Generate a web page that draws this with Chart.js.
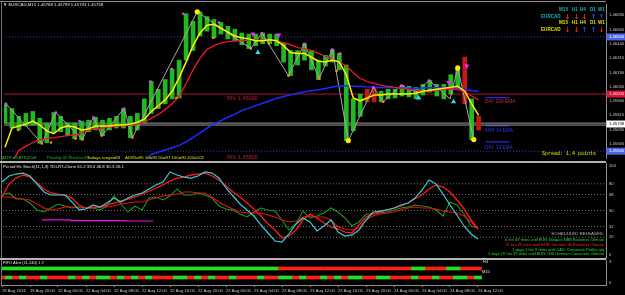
<!DOCTYPE html>
<html><head><meta charset="utf-8">
<script src="https://cdn.jsdelivr.net/npm/chart.js@4.4.1/dist/chart.umd.min.js"></script>
<style>
html,body{margin:0;padding:0;background:#000;width:625px;height:295px;overflow:hidden;}
#wrap{position:relative;width:625px;height:295px;background:#000;}
canvas{position:absolute;left:0;}
.t{position:absolute;white-space:nowrap;font-family:"Liberation Sans",Arial,sans-serif;font-size:4.3px;line-height:1;}
.b{font-weight:bold;font-size:4.6px;}
.ar{position:absolute;width:7px;text-align:center;font-family:"DejaVu Sans",sans-serif;font-weight:bold;font-size:7px;line-height:1;}
.ln{position:absolute;}
</style></head><body>
<div id="wrap">
<canvas id="main" width="625" height="162" style="top:0"></canvas>
<canvas id="stoch" width="625" height="97" style="top:162px"></canvas>
<canvas id="fifo" width="625" height="36" style="top:259px"></canvas>

<div class="ln" style="left:0;top:1px;width:606px;height:1px;background:#8c8c8c"></div>
<div class="ln" style="left:1px;top:1px;width:1px;height:284px;background:#707070"></div>
<div class="ln" style="left:0;top:161px;width:606px;height:2px;background:#b4b4b4"></div>
<div class="ln" style="left:0;top:258px;width:606px;height:2px;background:#b4b4b4"></div>

<div class="t" style="left:3px;top:3px;color:#e6e6e6">▼ EURCAD,M15 1.45768 1.45793 1.45733 1.45738</div>

<div class="t b" style="left:559px;top:8px;color:#14b4b4">M15</div>
<div class="t b" style="left:572px;top:8px;color:#14b4b4">H1</div>
<div class="t b" style="left:580px;top:8px;color:#14b4b4">H4</div>
<div class="t b" style="left:590px;top:8px;color:#14b4b4">D1</div>
<div class="t b" style="left:598px;top:8px;color:#14b4b4">W1</div>
<div class="t b" style="left:541px;top:15px;color:#14b4b4">EURCAD</div>
<div class="ar" style="left:564px;top:14px;color:#ff2020">↓</div>
<div class="ar" style="left:573px;top:14px;color:#ff2020">↓</div>
<div class="ar" style="left:581px;top:14px;color:#ff2020">↓</div>
<div class="ar" style="left:590px;top:14px;color:#2848ff">↑</div>
<div class="ar" style="left:598px;top:14px;color:#2848ff">↑</div>
<div class="t b" style="left:559px;top:21px;color:#e0e000">M15</div>
<div class="t b" style="left:572px;top:21px;color:#e0e000">H1</div>
<div class="t b" style="left:580px;top:21px;color:#e0e000">H4</div>
<div class="t b" style="left:590px;top:21px;color:#e0e000">D1</div>
<div class="t b" style="left:598px;top:21px;color:#e0e000">W1</div>
<div class="t b" style="left:541px;top:28px;color:#e0e000">EURCAD</div>
<div class="ar" style="left:564px;top:27px;color:#ff2020">↓</div>
<div class="ar" style="left:573px;top:27px;color:#ff2020">↓</div>
<div class="ar" style="left:581px;top:27px;color:#2848ff">↑</div>
<div class="ar" style="left:590px;top:27px;color:#2848ff">↑</div>
<div class="ar" style="left:598px;top:27px;color:#ff2020">↓</div>

<div class="t" style="left:227px;top:96px;font-size:5.5px;color:#c81e3c">RN: 1.46000</div>
<div class="t" style="left:227px;top:154.5px;font-size:5.5px;color:#c81e3c">RN: 1.45500</div>
<div class="t" style="left:485px;top:100px;font-size:4.8px;color:#c82850">DAY 200 EMA</div>
<div class="t" style="left:485px;top:129px;font-size:4.8px;color:#3038e0">4HR 34 EMA</div>
<div class="t" style="left:485px;top:145.5px;font-size:4.8px;color:#3038e0">DAY 13 EMA</div>
<div class="t" style="left:542px;top:151.5px;font-size:5px;font-family:'Liberation Mono',monospace;color:#e8e800">Spread: 1.4 points</div>

<div class="t" style="left:2px;top:155.5px;color:#20c040">ATR5=9  ATR25=9</div>
<div class="t" style="left:47px;top:155.5px;color:#20c020">PrevUp:32  PrevDn:46</div>
<div class="t" style="left:87px;top:155.5px;color:#e0e000">Todays range=83</div>
<div class="t" style="left:125px;top:155.5px;color:#e0e000">ADR5=95 10=93 50=97 100=90 200=102</div>

<div class="t" style="left:3px;top:164.5px;color:#e0e0e0">Period Hc Stoch(11,1,3) TDI-RT-Clone 61.2 39.4 46.8 30.3 26.1</div>

<div class="t" style="right:21px;top:232px;font-size:4.4px;color:#b8b8b8">SCHEDULED RELEASES:</div>
<div class="t" style="right:21px;top:238px;font-size:4px;color:#22dd22">0 hrs 49 mins until EUR: Belgian NBB Business Climate</div>
<div class="t" style="right:21px;top:243px;font-size:4px;color:#ff2222">21 hrs 29 mins until EUR: German Ifo Business Climate</div>
<div class="t" style="right:21px;top:247.5px;font-size:4px;color:#22dd22">1 days 1 hrs 9 mins until CAD: Corporate Profits q/q</div>
<div class="t" style="right:21px;top:252px;font-size:4px;color:#22dd22">1 days 19 hrs 29 mins until EUR: GfK German Consumer Climate</div>

<div class="t" style="left:3px;top:261px;font-size:4px;color:#e0e0e0">FIFO Alert (11,240) 1 2</div>
<div class="t" style="left:483px;top:260px;font-size:4px;color:#e0e0e0">H4</div>
<div class="t" style="left:482px;top:269.5px;font-size:4px;color:#e0e0e0">M15</div>
</div>

<script>
// ---------- DATA (hourly bars, index 0 = 19 Aug 16:00) ----------
const timeLabels = ["19 Aug 2016","19 Aug 20:00","22 Aug 00:00","22 Aug 04:00","22 Aug 08:00","22 Aug 12:00","22 Aug 16:00","22 Aug 20:00","23 Aug 00:00","23 Aug 04:00","23 Aug 08:00","23 Aug 12:00","23 Aug 16:00","23 Aug 20:00","24 Aug 00:00","24 Aug 04:00","24 Aug 08:00","24 Aug 12:00"];
const hoursPerLabel = 4;

const candleHigh = [1.45915,1.45873,1.45805,1.45831,1.45848,1.45788,1.45746,1.45839,1.45805,1.45746,
 1.45746,1.45763,1.45771,1.45797,1.45771,1.45788,1.45805,1.45873,1.45805,1.45831,
 1.45958,1.46110,1.46042,1.46127,1.46220,1.46297,1.46703,1.46636,1.46720,1.46678,
 1.46653,1.46627,1.46593,1.46568,1.46534,1.46525,1.46525,1.46534,1.46525,1.46525,
 1.46449,1.46381,1.46381,1.46441,1.46381,1.46297,1.46339,1.46390,1.46356,1.46254,
 1.45958,1.46000,1.46042,1.46059,1.46025,1.46042,1.46042,1.46076,1.46068,1.46059,
 1.46085,1.46119,1.46085,1.46085,1.46169,1.46229,1.46322,1.45958,1.45805];
const candleLow = [1.45746,1.45703,1.45686,1.45720,1.45729,1.45568,1.45576,1.45661,1.45670,1.45636,
 1.45610,1.45602,1.45670,1.45686,1.45636,1.45686,1.45703,1.45703,1.45619,1.45686,
 1.45746,1.45831,1.45873,1.45915,1.45958,1.45966,1.46297,1.46381,1.46508,1.46551,
 1.46492,1.46525,1.46483,1.46466,1.46432,1.46398,1.46424,1.46441,1.46441,1.46424,
 1.46280,1.46161,1.46254,1.46297,1.46212,1.46127,1.46246,1.46280,1.46212,1.45593,
 1.45678,1.45805,1.45932,1.45932,1.45932,1.45958,1.45966,1.45983,1.45975,1.45958,
 1.45992,1.46017,1.45983,1.45958,1.46000,1.46042,1.45915,1.45602,1.45686];
const candleUp = [1,1,1,1,1,1,1,1,1,1, 1,1,1,1,1,1,1,1,1,1, 1,1,1,1,1,1,1,1,1,1,
 1,1,1,1,1,1,1,1,1,1, 1,1,1,1,1,1,1,1,1,1, 1,1,0,0,1,1,1,1,1,1, 1,1,1,1,1,1,0,1,0];

const emaFast = [1.45534,1.45703,1.45720,1.45737,1.45763,1.45729,1.45678,1.45653,1.45703,1.45720,
 1.45712,1.45686,1.45695,1.45720,1.45720,1.45720,1.45729,1.45729,1.45737,1.45754,
 1.45780,1.45847,1.45898,1.45949,1.46025,1.46144,1.46280,1.46424,1.46534,1.46602,
 1.46610,1.46576,1.46542,1.46508,1.46492,1.46483,1.46466,1.46466,1.46475,1.46466,
 1.46424,1.46364,1.46356,1.46356,1.46322,1.46288,1.46280,1.46297,1.46280,1.46169,
 1.45966,1.45941,1.45966,1.45992,1.45992,1.46000,1.46000,1.46000,1.46000,1.46008,
 1.46025,1.46034,1.46042,1.46051,1.46059,1.46068,1.46025,1.45915,1.45814];
const emaMid = [null,1.45400,1.45508,1.45542,1.45576,1.45602,1.45610,1.45619,1.45627,1.45636,
 1.45644,1.45661,1.45686,1.45695,1.45703,1.45712,1.45720,1.45720,1.45729,1.45737,
 1.45754,1.45788,1.45822,1.45864,1.45915,1.45983,1.46093,1.46212,1.46314,1.46390,
 1.46424,1.46449,1.46458,1.46466,1.46466,1.46475,1.46475,1.46475,1.46475,1.46466,
 1.46449,1.46432,1.46407,1.46398,1.46381,1.46356,1.46331,1.46305,1.46280,1.46246,
 1.46186,1.46136,1.46110,1.46093,1.46076,1.46068,1.46059,1.46051,1.46042,1.46034,
 1.46025,1.46025,1.46034,1.46042,1.46042,1.46042,1.46017,1.45983,1.45949];
const ema200 = [null,null,null,null,null,null,null,null,null,null,
 null,null,null,null,null,null,null,null,null,null,
 1.45400,1.45472,1.45492,1.45511,1.45531,1.45551,1.45582,1.45622,1.45661,1.45701,
 1.45740,1.45768,1.45797,1.45825,1.45856,1.45877,1.45899,1.45920,1.45942,1.45963,
 1.45978,1.45993,1.46008,1.46021,1.46030,1.46038,1.46049,1.46061,1.46073,1.46073,
 1.46069,1.46066,1.46063,1.46060,1.46058,1.46057,1.46055,1.46053,1.46051,1.46051,
 1.46053,1.46055,1.46056,1.46058,1.46059,1.46050,1.46041,1.46031,1.46022];

const zigX = [0.14,5.3,7.3,11.1,12.7,13.9,17.1,18.3,27.6,35.3,36.9,40.7,43.0,45.1,47.0,49.3,52.9,54.3,56.9,59.0,60.9,63.9,65.0,67.3];
const zigY = [1.45915,1.45568,1.45839,1.45602,1.45797,1.45636,1.45873,1.45619,1.46720,1.46398,1.46534,1.46161,1.46441,1.46136,1.46390,1.45593,1.46059,1.45932,1.46076,1.46017,1.46119,1.45958,1.46229,1.45602];
const highDotX = [0.14,7.3,10.7,12.7,17.1,20.9,23.9,25.6,30.7,36.9,43.0,47.0,48.1,52.9,56.9,60.9];
const highDotY = [1.45915,1.45839,1.45763,1.45797,1.45873,1.46110,1.46220,1.46703,1.46627,1.46534,1.46441,1.46390,1.46356,1.46059,1.46076,1.46119];
const lowDotX = [1.9,5.3,6.6,10.1,11.1,13.9,18.3,22.1,24.6,29.9,35.3,37.9,40.7,45.1,47.6,54.3];
const lowDotY = [1.45686,1.45568,1.45576,1.45610,1.45602,1.45636,1.45619,1.45898,1.45966,1.46492,1.46398,1.46441,1.46161,1.46136,1.46203,1.45932];
const extremeX = [27.6,49.3,65.0,67.3];
const extremeY = [1.46720,1.45593,1.46229,1.45602];
const downArrowX = [35.6,39.3,63.7,66.3];
const downArrowY = [1.46525,1.46517,1.46102,1.46246];
const upArrowX = [36.3,59.4,64.4];
const upArrowY = [1.46364,1.45966,1.45932];

const priceTicks = [1.46690,1.46565,1.46440,1.46315,1.46190,1.46065,1.45940,1.45815,1.45690,1.45565];
const roundNumbers = [1.46500,1.46000,1.45500];
const bidAsk = [1.45746,1.45729];
const emaLabelLevels = [1.45969,1.45723,1.45582];
const emaLabelSpan = [69.0,72.4];
const boxLevels = [1.46500,1.46000,1.45738,1.45500];

const stochFast = [82,88.8,91,92,88.8,79.8,70.8,67.4,67.4,67.4,59.6,50.6,51.7,56.2,53.9,58.4,64,59.6,64,67.4,
 69.7,74.2,78.7,82,93.3,89.9,87.6,86.5,88.8,93.3,92.1,86.5,75.3,66.3,57.3,50.6,43.8,33.7,24.7,15.7,
 14.6,23.6,34.8,41.6,37.1,27,32.6,39.3,25.8,21.3,22.5,28.1,39.3,48.3,49.4,50.6,52.8,56.2,58.4,64,
 73,84.3,79.8,68.5,56.2,44.9,32.6,23.6,18];
const stochSlow = [65.2,79.8,86.5,89.9,87.6,80.9,74.2,69.7,68.5,67.4,64,56.2,52.8,53.9,53.9,56.2,58.4,60.7,62.9,65.2,
 68.5,71.9,75.3,78.7,83.1,86.5,87.6,89.9,91,92.1,88.8,84.3,77.5,70.8,65.2,58.4,51.7,43.8,34.8,28.1,
 19.1,21.3,28.1,39.3,46.1,41.6,36,31.5,29.2,25.8,24.7,33.7,42.7,46.1,48.3,50.6,52.8,55.1,58.4,62.9,
 67.4,74.2,78.7,76.4,70.8,61.8,51.7,39.3,29.2];
const tdiRsi = [67.4,69.7,62.9,62.9,58.4,50.6,48.3,52.8,57.3,55.1,52.8,53.9,52.8,52.8,50.6,55.1,66.3,57.3,48.3,55.1,
 50.6,64,65.2,61.8,66.3,74.2,67.4,67.4,69.7,67.4,64,55.1,51.7,50.6,46.1,42.7,48.3,52.8,50.6,49.4,
 39.3,28.1,34.8,49.4,41.6,43.8,47.2,52.8,48.3,41.6,32.6,37.1,46.1,46.1,47.2,48.3,50.6,52.8,53.9,56.2,
 55.1,53.9,50.6,43.8,59.6,56.2,46.1,32.6,30.3];
const tdiSignal = [65.2,65.2,64,62.9,61.8,57.3,52.8,50.6,51.7,53.9,53.9,52.8,52.8,52.8,53.9,53.9,55.1,57.3,58.4,59.6,
 59.6,61.8,64,66.3,67.4,68.5,70.8,70.8,69.7,69.7,65.2,59.6,55.1,51.7,48.3,47.2,47.2,47.2,44.9,42.7,
 39.3,37.1,38.2,42.7,43.8,42.7,42.7,39.3,31.5,29.2,28.1,30.3,39.3,43.8,46.1,47.2,48.3,50.6,52.8,53.9,
 52.8,52.8,51.7,49.4,48.3,47.2,43.8,37.1,29.2];
const stochMagX = [5.7,9.7,9.8,17.6,17.7,21.6];
const stochMagY = [39.5,39.5,38.6,38.6,38.2,38.2];
const stochLevels = [80,68,50,32,20];
const stochTicks = [100,80,68,50,32,20,0];

const fifoH4 = [1,1,1,1,1,1,1,1,1,1, 1,1,1,1,1,1,1,1,1,1, 1,1,1,1,1,1,1,1,1,1, 1,1,1,1,1,1,1,1,1,1,
 0,0,0,0,0,0,0,0,0,0, 0,0,0,0,0,0,0,0,0,1, 1,0,0,0,1,1,0,0,0];
const fifoM15 = [0,1,0,1,0,0,1,0,0,0, 1,0,1,0,1,1,0,1,0,1, 0,1,0,0,0,1,1,0,1,0, 1,0,0,1,0,0,0,1,0,0,
 1,1,0,1,0,0,1,0,1,0, 1,1,0,0,1,1,0,0,0,1, 0,0,1,0,0,1,1,0,1];
const fifoTicks = [3,0];

// ---------- helpers ----------
const hours = candleHigh.map((_, i) => i);
const series = arr => hours.map((h, i) => ({x: h, y: arr[i]}));
const pts = (xs, ys) => xs.map((x, i) => ({x, y: ys[i]}));
const hline = (v, span) => [{x: span ? span[0] : -5, y: v}, {x: span ? span[1] : 100, y: v}];
const X_MIN = -1/7, X_MAX = 605/7 - 1/7;
const FONT = 'Liberation Sans';
const TICK_COLOR = '#c8c8c8';
const AXIS_COLOR = '#8c8c8c';
const GREEN = '#22e022', RED = '#ff1c1c';

const yAxisBase = (ticks, fmt) => ({
  position: 'right',
  grid: {display: false, drawTicks: false},
  border: {display: true, color: AXIS_COLOR},
  afterBuildTicks: s => { s.ticks = ticks.map(v => ({value: v})); },
  afterFit: s => { s.width = 19; s.paddingTop = 0; s.paddingBottom = 0; },
  ticks: {autoSkip: false, color: TICK_COLOR, font: {size: 4.2, family: FONT}, padding: 3, callback: fmt}
});
const xHidden = {type: 'linear', display: false, offset: false, grid: {offset: false}, min: X_MIN, max: X_MAX};
const baseOpts = {
  responsive: false, animation: false, events: [],
  plugins: {legend: {display: false}, tooltip: {enabled: false}}
};

const axisBoxes = {
  id: 'axisBoxes',
  afterDraw(chart) {
    const ctx = chart.ctx, ys = chart.scales.y, x0 = chart.chartArea.right;
    const fills = ['#4a66e6', '#d0143a', '#ffffff', '#4a66e6'];
    const texts = ['#ffffff', '#ffd8e0', '#000000', '#ffffff'];
    ctx.save();
    ctx.font = '4.2px "' + FONT + '"';
    ctx.textBaseline = 'middle';
    boxLevels.forEach((v, i) => {
      const py = ys.getPixelForValue(v);
      ctx.fillStyle = fills[i];
      ctx.fillRect(x0 + 0.5, py - 3.5, chart.width - x0, 7);
      ctx.fillStyle = texts[i];
      ctx.fillText(v.toFixed(5), x0 + 3, py);
    });
    ctx.restore();
  }
};

// ---------- main price panel ----------
const line = (data, color, width, order, extra) => Object.assign({
  type: 'line', data, borderColor: color, borderWidth: width, pointRadius: 0, fill: false, order, tension: 0
}, extra || {});
const dots = (data, color, r, style, order, extra) => Object.assign({
  type: 'line', data, showLine: false, pointRadius: r, pointStyle: style,
  pointBackgroundColor: color, pointBorderColor: color, pointBorderWidth: 0, order
}, extra || {});

new Chart(document.getElementById('main'), {
  type: 'line',
  data: {datasets: [
    line(hline(roundNumbers[0]), '#3a3ad0', 1, 20, {borderDash: [1, 2]}),
    line(hline(roundNumbers[1]), '#b01030', 1, 20),
    line(hline(roundNumbers[2]), '#3a3ad0', 1, 20, {borderDash: [1, 2]}),
    line(hline(bidAsk[0]), '#9a9a9a', 1, 20),
    line(hline(bidAsk[1]), '#9a9a9a', 1, 20),
    line(hline(emaLabelLevels[0], emaLabelSpan), '#2a2ad8', 1.3, 20),
    line(hline(emaLabelLevels[1], emaLabelSpan), '#2a2ad8', 1.3, 20),
    line(hline(emaLabelLevels[2], emaLabelSpan), '#2a2ad8', 1.3, 20),
    {type: 'bar', data: hours.map((h, i) => ({x: h, y: [candleLow[i], candleHigh[i]]})),
     backgroundColor: candleUp.map(u => u ? '#22b822' : '#c41818'), barThickness: 4, grouped: false, order: 15},
    line(pts(zigX, zigY), '#a8a8a8', 1, 12),
    line(series(ema200), '#1c2cff', 1.5, 10),
    line(series(emaMid), '#ee1530', 1.3, 9),
    line(series(emaFast), '#ffee00', 1.5, 8),
    dots(pts(highDotX, highDotY), '#ff3cff', 1.6, 'rect', 5),
    dots(pts(lowDotX, lowDotY), '#ff8a20', 1.6, 'rect', 5),
    dots(pts(extremeX, extremeY), '#ffee00', 2.6, 'circle', 4),
    dots(pts(downArrowX, downArrowY), '#ff22ff', 3, 'triangle', 3, {pointRotation: 180}),
    dots(pts(upArrowX, upArrowY), '#22e0ff', 3, 'triangle', 3)
  ]},
  options: Object.assign({}, baseOpts, {
    layout: {padding: {left: 1, top: 2, right: 0, bottom: 1}},
    scales: {
      x: xHidden,
      y: Object.assign(yAxisBase(priceTicks, v => Number(v).toFixed(5)), {min: 1.454407, max: 1.467881})
    }
  }),
  plugins: [axisBoxes]
});

// ---------- stochastic / TDI panel ----------
new Chart(document.getElementById('stoch'), {
  type: 'line',
  data: {datasets: [
    line(series(stochFast), '#3cc8d4', 1.2, 1),
    line(series(stochSlow), '#ff1a1a', 1.3, 2),
    line(series(tdiSignal), '#e01212', 1.1, 3),
    line(series(tdiRsi), '#1e961e', 1.1, 4),
    line(pts(stochMagX, stochMagY), '#e614e6', 1.2, 5),
    ...stochLevels.map(v => line(hline(v), '#8a8a8a', 0.8, 9, {borderDash: [1, 2]}))
  ]},
  options: Object.assign({}, baseOpts, {
    layout: {padding: {left: 1, top: 1, right: 0, bottom: 1}},
    scales: {
      x: xHidden,
      y: Object.assign(yAxisBase(stochTicks, v => String(v)), {min: -3.4, max: 103.4})
    }
  })
});

// ---------- FIFO alert panel with time axis ----------
new Chart(document.getElementById('fifo'), {
  type: 'bar',
  data: {datasets: [
    {data: hours.map(h => ({x: h, y: [1.86, 2.29]})), backgroundColor: fifoH4.map(s => s ? GREEN : RED),
     barThickness: 7, grouped: false},
    {data: hours.map(h => ({x: h, y: [0.57, 1.0]})), backgroundColor: fifoM15.map(s => s ? GREEN : RED),
     barThickness: 7, grouped: false}
  ]},
  options: Object.assign({}, baseOpts, {
    layout: {padding: {left: 1, top: 1, right: 0, bottom: 0}},
    scales: {
      x: {type: 'linear', min: X_MIN, max: X_MAX, offset: false,
          grid: {display: true, offset: false, drawOnChartArea: false, drawTicks: true, tickLength: 2, tickColor: AXIS_COLOR, color: AXIS_COLOR},
          border: {display: true, color: AXIS_COLOR},
          afterBuildTicks: s => { s.ticks = timeLabels.map((_, i) => ({value: i * hoursPerLabel})); },
          afterFit: s => { s.height = 10; s.paddingLeft = 0; s.paddingRight = 0; },
          ticks: {autoSkip: false, maxRotation: 0, minRotation: 0, align: 'start', padding: 1,
                  color: TICK_COLOR, font: {size: 4.2, family: FONT},
                  callback: (v, i) => timeLabels[i]}},
      y: Object.assign(yAxisBase(fifoTicks, v => String(v)), {min: -0.286, max: 3.286})
    }
  })
});
</script>
</body></html>
